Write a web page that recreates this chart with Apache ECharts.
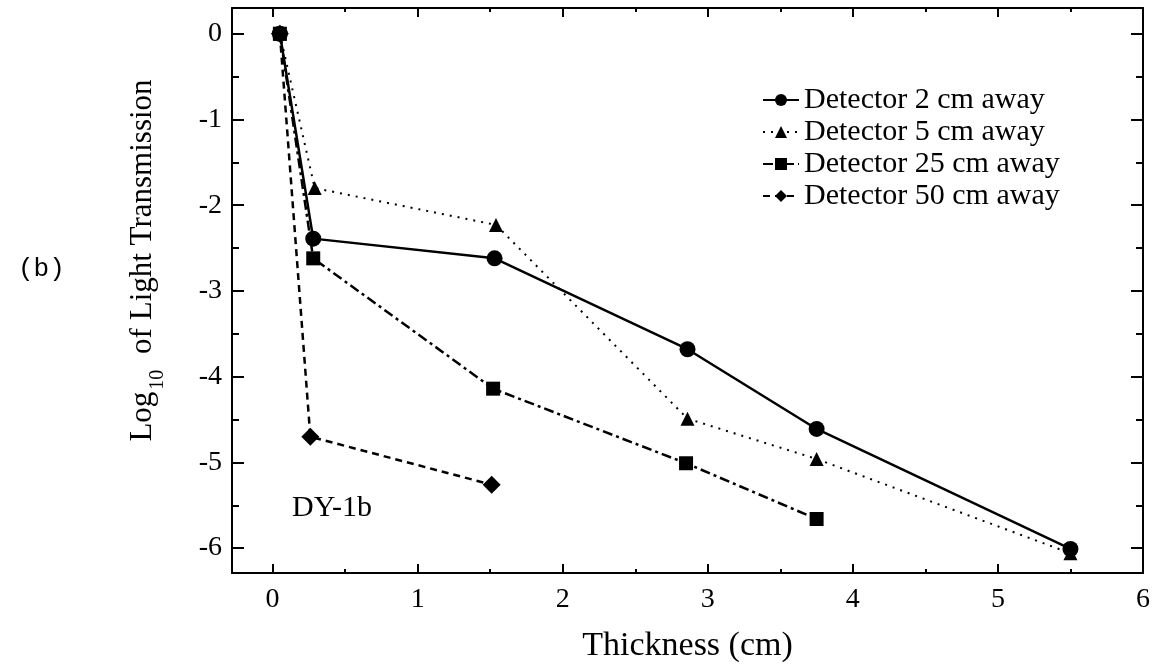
<!DOCTYPE html>
<html>
<head>
<meta charset="utf-8">
<script src="https://cdn.jsdelivr.net/npm/echarts@6/dist/echarts.min.js"></script>
<style>
html,body{margin:0;padding:0;background:#fff;}
#chart{width:1155px;height:666px;}
</style>
</head>
<body>
<div id="chart"></div>
<script>
// ---- data ----
const seriesNames = ['Detector 2 cm away', 'Detector 5 cm away', 'Detector 25 cm away', 'Detector 50 cm away'];
const det2  = [[0.05, 0], [0.28, -2.39], [1.53, -2.62], [2.86, -3.68], [3.75, -4.61], [5.5, -6.01]];
const det5  = [[0.05, 0], [0.29, -1.80], [1.54, -2.23], [2.86, -4.49], [3.75, -4.96], [5.5, -6.06]];
const det25 = [[0.05, 0], [0.28, -2.62], [1.52, -4.14], [2.85, -5.01], [3.75, -5.66]];
const det50 = [[0.05, 0], [0.26, -4.70], [1.51, -5.26]];
const xMajor = [0, 1, 2, 3, 4, 5, 6];
const xMinor = [0.5, 1.5, 2.5, 3.5, 4.5, 5.5];
const yMajor = [0, -1, -2, -3, -4, -5, -6];
const yMinor = [-0.5, -1.5, -2.5, -3.5, -4.5, -5.5];

const SERIF = '"Liberation Serif", "DejaVu Serif", serif';
const X_MIN = -0.28, X_MAX = 6, Y_MIN = -6.29, Y_MAX = 0.3;

function xAx(pos, ticks, len, withLabel, showLine) {
  return {
    type: 'value', position: pos, min: X_MIN, max: X_MAX,
    axisLine: { show: showLine, onZero: false, lineStyle: { color: '#000', width: 2 } },
    axisTick: { show: true, inside: true, length: len, customValues: ticks, lineStyle: { color: '#000', width: 2 } },
    axisLabel: withLabel ? { show: true, customValues: ticks, color: '#000', fontFamily: SERIF, fontSize: 28, margin: 13 } : { show: false },
    splitLine: { show: false }
  };
}
function yAx(pos, ticks, len, withLabel, showLine) {
  return {
    type: 'value', position: pos, min: Y_MIN, max: Y_MAX,
    axisLine: { show: showLine, onZero: false, lineStyle: { color: '#000', width: 2 } },
    axisTick: { show: true, inside: true, length: len, customValues: ticks, lineStyle: { color: '#000', width: 2 } },
    axisLabel: withLabel ? { show: true, customValues: ticks, color: '#000', fontFamily: SERIF, fontSize: 28, margin: 10 } : { show: false },
    splitLine: { show: false }
  };
}

const xAxes = [
  xAx('bottom', xMajor, 9, true, true),
  xAx('bottom', xMinor, 4, false, false),
  xAx('top', xMajor, 9, false, true),
  xAx('top', xMinor, 4, false, false)
];
xAxes[0].name = 'Thickness (cm)';
xAxes[0].nameLocation = 'middle';
xAxes[0].nameGap = 56;
xAxes[0].nameTextStyle = { color: '#000', fontFamily: SERIF, fontSize: 34 };

const yAxes = [
  yAx('left', yMajor, 12, true, true),
  yAx('left', yMinor, 7, false, false),
  yAx('right', yMajor, 12, false, true),
  yAx('right', yMinor, 7, false, false)
];
yAxes[0].name = '{a|Log}{s|10}{a| of Light Transmission}';
yAxes[0].nameLocation = 'middle';
yAxes[0].nameGap = 64;
yAxes[0].nameTextStyle = {
  color: '#000', fontFamily: SERIF, fontSize: 31, padding: [0, 0, 0, 60],
  rich: {
    a: { fontFamily: SERIF, fontSize: 31, color: '#000' },
    s: { fontFamily: SERIF, fontSize: 20, color: '#000', verticalAlign: 'bottom', padding: [30, 8, 0, 2] }
  }
};

const styles = [
  { symbol: 'circle', size: 16, line: { type: 'solid', width: 2.5 } },
  { symbol: 'triangle', size: 14, line: { type: [2, 6], width: 2 } },
  { symbol: 'rect', size: 14, line: { type: [10, 4, 3, 4], width: 2.5 } },
  { symbol: 'diamond', size: 18, line: { type: [7, 5], width: 2.5 } }
];
const datas = [det2, det5, det25, det50];

const series = datas.map((d, i) => ({
  name: seriesNames[i], type: 'line', data: d,
  xAxisIndex: 0, yAxisIndex: 0,
  symbol: styles[i].symbol, symbolSize: styles[i].size,
  itemStyle: { color: '#000' },
  lineStyle: Object.assign({ color: '#000' }, styles[i].line),
  z: 10 - i, animation: false
}));

const chart = echarts.init(document.getElementById('chart'));
chart.setOption({
  animation: false,
  backgroundColor: '#fff',
  grid: { left: 232, right: 12, top: 8, bottom: 93, containLabel: false, outerBoundsMode: 'none' },
  xAxis: xAxes,
  yAxis: yAxes,
  legend: {
    orient: 'vertical', left: 757, top: 80,
    itemWidth: 36, itemHeight: 15, itemGap: 2,
    data: seriesNames,
    textStyle: { color: '#000', fontFamily: SERIF, fontSize: 30, lineHeight: 30 }
  },
  graphic: [
    { type: 'text', left: 18, top: 256, style: { text: '(b)', fill: '#000', font: '26px "Liberation Mono", "DejaVu Sans Mono", monospace' } },
    { type: 'text', left: 292, top: 493, style: { text: 'DY-1b', fill: '#000', font: '30px "Liberation Serif", serif' } }
  ],
  series: series
});
</script>
</body>
</html>
